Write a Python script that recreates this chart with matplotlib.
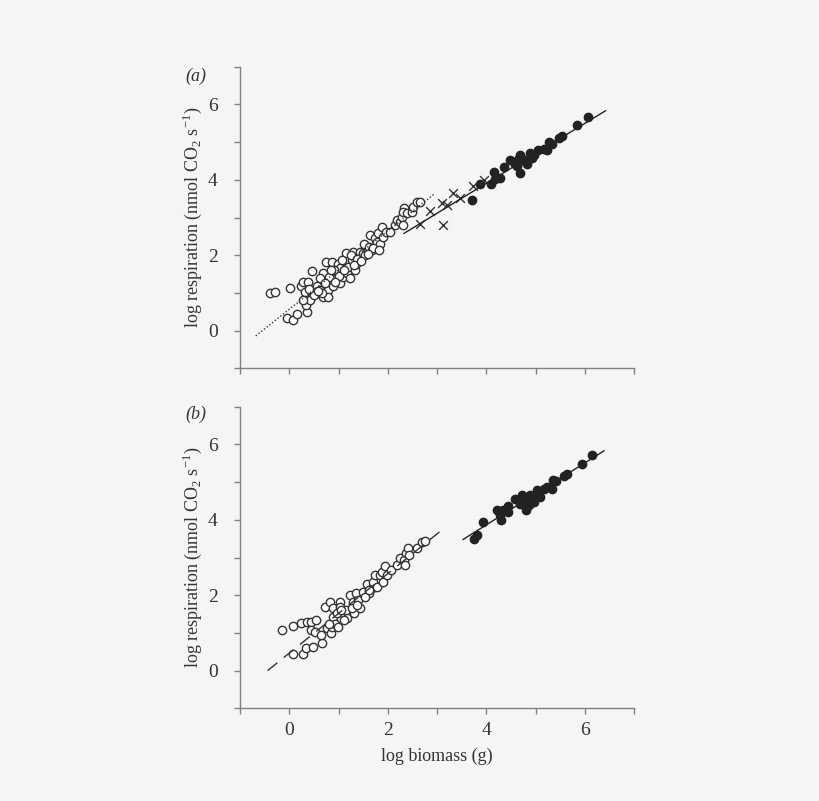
import numpy as np
import matplotlib.pyplot as plt

plt.rcParams['font.family'] = ['Liberation Serif', 'DejaVu Serif']
plt.rcParams['mathtext.fontset'] = 'custom'
plt.rcParams['mathtext.rm'] = 'Liberation Serif'

# panel (a) data
a_open_x = [-0.39, -0.29, 0.01, -0.05, 0.08, 0.15, 0.23, 0.27, 0.39, 0.47, 0.35, 0.34, 0.37, 0.32,
            0.43, 0.28, 0.56, 0.62, 0.69, 0.69, 0.75, 0.79, 0.79, 0.83, 0.86, 0.86, 0.89, 0.96,
            0.98, 1.02, 1.04, 1.10, 1.13, 1.17, 1.15, 1.20, 1.23, 1.27, 1.29, 1.34, 1.36, 1.40,
            1.44, 1.49, 1.51, 1.57, 1.61, 1.64, 1.67, 1.74, 1.78, 1.81, 1.84, 1.88, 1.91, 1.97,
            2.15, 2.18, 2.24, 2.28, 2.31, 2.33, 2.31, 2.39, 2.49, 2.52, 2.60, 2.66, 0.62, 0.80,
            0.90, 1.08, 1.25, 1.37, 1.54, 1.71, 0.50, 0.72, 1.00, 0.40, 0.66, 0.93, 1.12, 1.31,
            1.46, 1.60, 1.83, 2.05, 0.58, 0.85]
a_open_y = [0.99, 1.03, 1.12, 0.33, 0.28, 0.44, 1.18, 1.30, 1.30, 1.59, 0.50, 0.68, 0.86, 1.03,
            0.81, 0.81, 1.17, 1.08, 1.52, 0.90, 1.81, 1.08, 0.90, 1.34, 1.56, 1.83, 1.17, 1.43,
            1.78, 1.65, 1.26, 1.43, 1.87, 1.52, 2.05, 1.70, 1.39, 1.87, 2.09, 1.61, 1.78, 1.96,
            2.09, 2.05, 2.31, 2.09, 2.23, 2.54, 2.14, 2.45, 2.36, 2.58, 2.31, 2.76, 2.49, 2.62,
            2.80, 2.93, 2.89, 3.02, 2.80, 3.24, 3.15, 3.11, 3.15, 3.29, 3.42, 3.42, 1.39, 1.43,
            1.60, 1.87, 2.00, 1.90, 2.00, 2.20, 0.95, 1.25, 1.45, 1.10, 1.00, 1.30, 1.62, 1.75,
            1.85, 2.02, 2.15, 2.62, 1.05, 1.62]
a_fill_x = [3.71, 3.88, 4.09, 4.15, 4.18, 4.27, 4.37, 4.49, 4.59, 4.66, 4.69, 4.68, 4.76, 4.83,
            4.88, 4.93, 4.97, 5.06, 5.17, 5.23, 5.27, 5.33, 5.47, 5.53, 5.84, 6.06, 4.62, 4.56, 4.80]
a_fill_y = [3.46, 3.90, 3.89, 4.21, 4.03, 4.06, 4.33, 4.52, 4.43, 4.57, 4.17, 4.66, 4.52, 4.43,
            4.70, 4.57, 4.66, 4.79, 4.83, 4.79, 5.01, 4.96, 5.10, 5.16, 5.45, 5.67, 4.36, 4.47, 4.47]
a_cross_x = [2.66, 2.85, 3.10, 3.13, 3.20, 3.33, 3.47, 3.74, 3.95]
a_cross_y = [2.83, 3.18, 3.39, 2.80, 3.33, 3.64, 3.53, 3.83, 3.99]
a_dot_line_x = [-0.68, 2.96]
a_dot_line_y = [-0.14, 3.64]
a_solid_line_x = [2.33, 6.42]
a_solid_line_y = [2.58, 5.83]

# panel (b) data
b_open_x = [-0.14, 0.08, 0.08, 0.23, 0.28, 0.34, 0.35, 0.45, 0.54, 0.45, 0.52, 0.49, 0.66, 0.64,
            0.73, 0.76, 0.83, 0.84, 0.86, 0.89, 0.89, 0.93, 0.99, 1.03, 1.02, 1.10, 1.17, 1.15,
            1.23, 1.30, 1.32, 1.36, 1.40, 1.44, 1.49, 1.57, 1.61, 1.67, 1.71, 1.74, 1.78, 1.84,
            1.88, 1.91, 1.95, 1.98, 2.06, 2.18, 2.25, 2.32, 2.35, 2.37, 2.42, 2.44, 2.60, 2.69,
            2.76, 0.96, 1.27, 1.54, 1.12, 0.80, 1.05, 1.38, 1.62]
b_open_y = [1.08, 1.18, 0.44, 1.27, 0.44, 0.59, 1.30, 1.30, 1.34, 1.08, 1.03, 0.64, 0.72, 0.95,
            1.68, 1.12, 1.83, 0.99, 1.17, 1.65, 1.43, 1.25, 1.17, 1.83, 1.70, 1.52, 1.39, 1.61,
            2.01, 1.83, 1.52, 2.05, 1.87, 1.65, 2.09, 2.31, 2.05, 2.18, 2.36, 2.54, 2.23, 2.54,
            2.62, 2.36, 2.77, 2.54, 2.67, 2.80, 2.98, 2.93, 2.80, 3.13, 3.24, 3.07, 3.24, 3.42,
            3.44, 1.52, 1.65, 1.95, 1.35, 1.25, 1.60, 1.75, 2.15]
b_fill_x = [3.76, 3.82, 3.93, 4.22, 4.27, 4.30, 4.34, 4.45, 4.45, 4.59, 4.73, 4.76, 4.80, 4.83,
            4.89, 4.97, 5.02, 5.09, 5.17, 5.23, 5.33, 5.35, 5.42, 5.57, 5.63, 5.95, 6.15, 4.69,
            4.86, 5.03]
b_fill_y = [3.48, 3.60, 3.95, 4.26, 4.13, 3.99, 4.26, 4.36, 4.21, 4.54, 4.66, 4.48, 4.26, 4.57,
            4.66, 4.48, 4.79, 4.61, 4.83, 4.86, 4.83, 5.05, 5.03, 5.16, 5.21, 5.49, 5.72, 4.43,
            4.39, 4.61]
b_dash_line_x = [-0.44, 3.05]
b_dash_line_y = [0.0, 3.68]
b_solid_line_x = [3.53, 6.39]
b_solid_line_y = [3.48, 5.83]

bg = '#f5f5f5'
fig = plt.figure(figsize=(8.2, 8.01), dpi=100, facecolor=bg)
ax_a = fig.add_axes([0.2927, 0.5402, 0.4805, 0.3765])
ax_b = fig.add_axes([0.2927, 0.1157, 0.4805, 0.3765])

ylab = r'log respiration (nmol CO$_2$ s$^{-1}$)'
ticks = list(range(-1, 8))
ticklabels = [str(t) if t in (0, 2, 4, 6) else '' for t in ticks]

def style(ax, show_x):
    ax.set_facecolor(bg)
    ax.set_xlim(-1, 7)
    ax.set_ylim(-1, 7)
    for s in ['top', 'right']:
        ax.spines[s].set_visible(False)
    for s in ['left', 'bottom']:
        ax.spines[s].set_color('#808080')
        ax.spines[s].set_linewidth(1.0)
    ax.set_xticks(ticks)
    ax.set_yticks(ticks)
    ax.set_yticklabels(ticklabels)
    if show_x:
        ax.set_xticklabels(ticklabels)
    else:
        ax.set_xticklabels([])
    ax.tick_params(direction='out', length=4, width=1, color='#808080',
                   labelsize=14, labelcolor='#333333', pad=6)
    ax.tick_params(axis='y', pad=12)
    ax.set_ylabel(ylab, fontsize=13, color='#333333', labelpad=3)

mk = dict(s=36, linewidths=1.0, zorder=3)

ax_a.scatter(a_open_x, a_open_y, facecolors='white', edgecolors='#333333', **mk)
ax_a.scatter(a_fill_x, a_fill_y, facecolors='#222222', edgecolors='#222222', **mk)
ax_a.scatter(a_cross_x, a_cross_y, marker='x', c='#333333', s=40, linewidths=1.0, zorder=3)
ax_a.plot(a_dot_line_x, a_dot_line_y, ls=(0, (1, 1.5)), color='#333333', lw=1.0, zorder=4)
ax_a.plot(a_solid_line_x, a_solid_line_y, ls='-', color='#222222', lw=1.0, zorder=4)
style(ax_a, False)
fig.text(0.226, 0.899, '(a)', fontsize=13, style='italic', color='#333333')

ax_b.scatter(b_open_x, b_open_y, facecolors='white', edgecolors='#333333', **mk)
ax_b.scatter(b_fill_x, b_fill_y, facecolors='#222222', edgecolors='#222222', **mk)
ax_b.plot(b_dash_line_x, b_dash_line_y, ls=(0, (9, 6)), color='#333333', lw=1.0, zorder=4)
ax_b.plot(b_solid_line_x, b_solid_line_y, ls='-', color='#222222', lw=1.0, zorder=4)
style(ax_b, True)
ax_b.set_xlabel('log biomass (g)', fontsize=13, color='#333333', labelpad=6)
fig.text(0.226, 0.477, '(b)', fontsize=13, style='italic', color='#333333')

fig.savefig('out.png', dpi=100, facecolor=bg)
